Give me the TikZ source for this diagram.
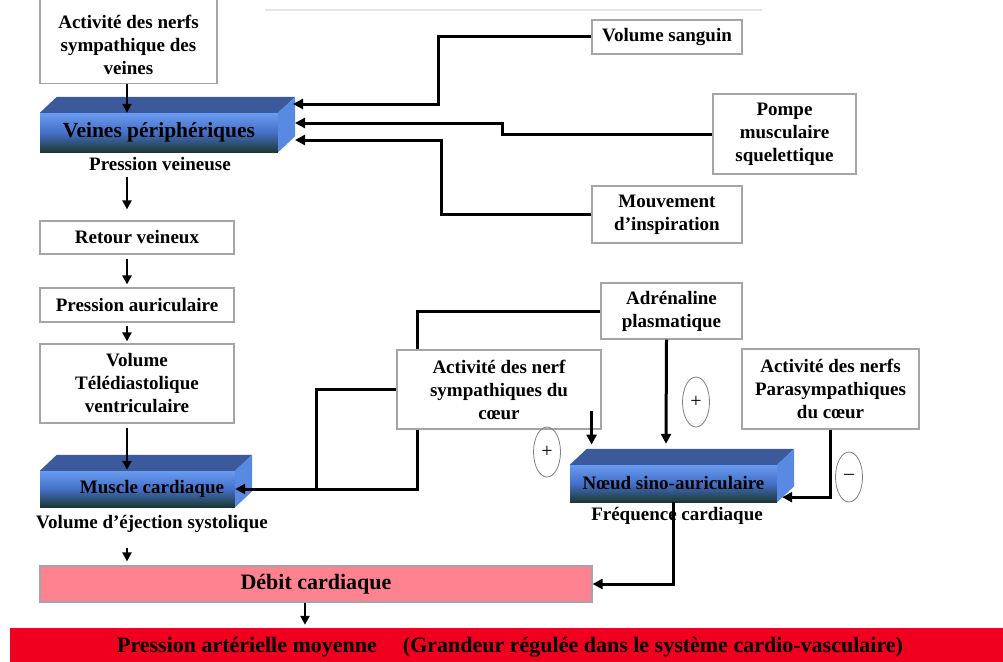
\documentclass[tikz,border=0pt]{standalone}
\usepackage{fontspec}
\setmainfont{Liberation Serif}
\usetikzlibrary{calc,arrows.meta,shapes.geometric}
\definecolor{boxgray}{RGB}{165,165,165}
\definecolor{frontTop}{RGB}{105,155,240}
\definecolor{frontMid}{RGB}{68,112,200}
\definecolor{frontBot}{RGB}{28,56,52}
\definecolor{topFace}{RGB}{60,90,155}
\definecolor{sideFace}{RGB}{88,138,228}
\definecolor{debitPink}{RGB}{255,130,145}
\definecolor{barRed}{RGB}{240,0,30}
\newcommand\slabfaces[1]{%
  \fill[topFace] (#1.north west) -- ++(17,-16) -- ($(#1.north east)+(17,-16)$) -- (#1.north east) -- cycle;
  \fill[sideFace] (#1.north east) -- ++(17,-16) -- ($(#1.south east)+(17,-16)$) -- (#1.south east) -- cycle;}
\begin{document}
\begin{tikzpicture}[x=1pt,y=-1pt,
  every node/.style={font=\bfseries\fontsize{19}{23}\selectfont, align=center, inner sep=0pt},
  rbox/.style={draw=boxgray, line width=1.2pt, fill=white},
  front/.style={top color=frontTop, bottom color=frontBot, middle color=frontMid},
  big/.style={font=\bfseries\fontsize{21.5}{25}\selectfont},
  huge/.style={font=\bfseries\fontsize{22}{26}\selectfont},
  sign/.style={ellipse, draw=gray, line width=0.8pt, minimum width=27, minimum height=50, font=\fontsize{20}{22}\selectfont},
  ln/.style={line width=3pt},
  arr/.style={line width=3pt, -{Triangle[length=10pt,width=10pt]}},
  tarr/.style={line width=2.2pt, -{Triangle[length=9pt,width=9pt]}}]
\useasboundingbox (0,0) rectangle (1003,661);
\draw[gray!20, line width=2pt] (265,10) -- (762,10);

% left column
\node[rbox, minimum width=177, minimum height=100, anchor=south] (sympv) at (128.5,84) {};
\node (sympvt) at (128.5,45) {Activité des nerfs\\sympathique des\\veines};
\node[front, big, minimum width=238, minimum height=39] (veines) at (159,132.5) {Veines périphériques};
\slabfaces{veines}
\node (pv) at (160,164) {Pression veineuse};
\node[rbox, minimum width=194, minimum height=33] (retour) at (137,237.5) {Retour veineux};
\node[rbox, minimum width=194, minimum height=34] (paur) at (137,305) {Pression auriculaire};
\node[rbox, minimum width=194, minimum height=79] (vtd) at (137,383.5) {Volume\\Télédiastolique\\ventriculaire};
\node[front, minimum width=195, minimum height=36] (muscle) at (137.5,489) {\hspace*{29pt}Muscle cardiaque};
\slabfaces{muscle}
\node (vej) at (152,524) {Volume d’éjection systolique};
\node[rbox, huge, fill=debitPink, minimum width=552, minimum height=36] (debit) at (316,584) {Débit cardiaque};
\node[huge, fill=barRed, minimum width=1000, minimum height=38] (pam) at (510,647) {Pression artérielle moyenne\hspace{26pt}(Grandeur régulée dans le système cardio-vasculaire)};

% right side
\node[rbox, minimum width=150, minimum height=34] (vsang) at (667,37) {Volume sanguin};
\node[rbox, minimum width=143, minimum height=80] (pompe) at (784.5,134) {Pompe\\musculaire\\squelettique};
\node[rbox, minimum width=150, minimum height=57] (mouv) at (667,214.5) {Mouvement\\d’inspiration};
\node[rbox, minimum width=141, minimum height=56] (adr) at (671.5,311) {Adrénaline\\plasmatique};
\node[rbox, minimum width=204, minimum height=79] (symc) at (499,389.5) {Activité des nerf\\sympathiques du\\cœur};
\node[rbox, minimum width=177, minimum height=80] (para) at (830.5,389) {Activité des nerfs\\Parasympathiques\\du cœur};
\node[front, minimum width=207, minimum height=37] (noeud) at (673.5,483.5) {Nœud sino-auriculaire};
\slabfaces{noeud}
\node (fc) at (677,516) {Fréquence cardiaque};
\node[sign] (p1) at (547,452) {+};
\node[sign] (p2) at (696,402) {+};
\node[sign] (m1) at (849,477) {–};

% connectors, left column
\coordinate (col) at (127,0);
\draw[tarr] (col |- sympv.south) -- (col |- veines.north);
\draw[tarr, shorten <=6pt, shorten >=11pt] (col |- pv.south) -- (col |- retour.north);
\draw[tarr, shorten <=4pt, shorten >=3pt] (col |- retour.south) -- (col |- paur.north);
\draw[tarr, shorten <=3pt, shorten >=2pt] (col |- paur.south) -- (col |- vtd.north);
\draw[tarr, shorten <=4pt, shorten >=1pt] (col |- vtd.south) -- (col |- muscle.north);
\draw[tarr, shorten <=15pt, shorten >=4pt] (col |- vej.south) -- (col |- debit.north);
\draw[tarr, shorten >=3pt] (305,0 |- debit.south) -- (305,0 |- pam.north);

% connectors to veines
\coordinate (vin1) at (293,104);
\coordinate (vin2) at (295,123);
\coordinate (vin3) at (295,140);
\draw[arr] (vsang.west) -- ++(-153,0) |- (vin1);
\draw[arr] (pompe.west) -- ++(-210,0) -- ++(0,-11) -- (vin2);
\draw[arr] (mouv.west) -- ++(-150,0) |- (vin3);

% cardiac connectors
\draw[ln] (adr.west) -| ($(symc.north west)+(21,0)$);
\draw[arr] ($(symc.south west)+(21,0)$) |- (muscle.east);
\draw[ln] (symc.west) -| ($(muscle.east)+(81,0)$);
\draw[arr] ($(symc.south east)+(-10,-19)$) -- ($(symc.south east)+(-10,15)$);
\draw[arr] ($(adr.south)+(-5,0)$) -- ($(noeud.north)+(-7.5,-21)$);
\draw[arr] (para.south) |- ($(noeud.south east)+(5,-5)$);
\draw[arr] (noeud.south) |- (debit.east);
\end{tikzpicture}
\end{document}
